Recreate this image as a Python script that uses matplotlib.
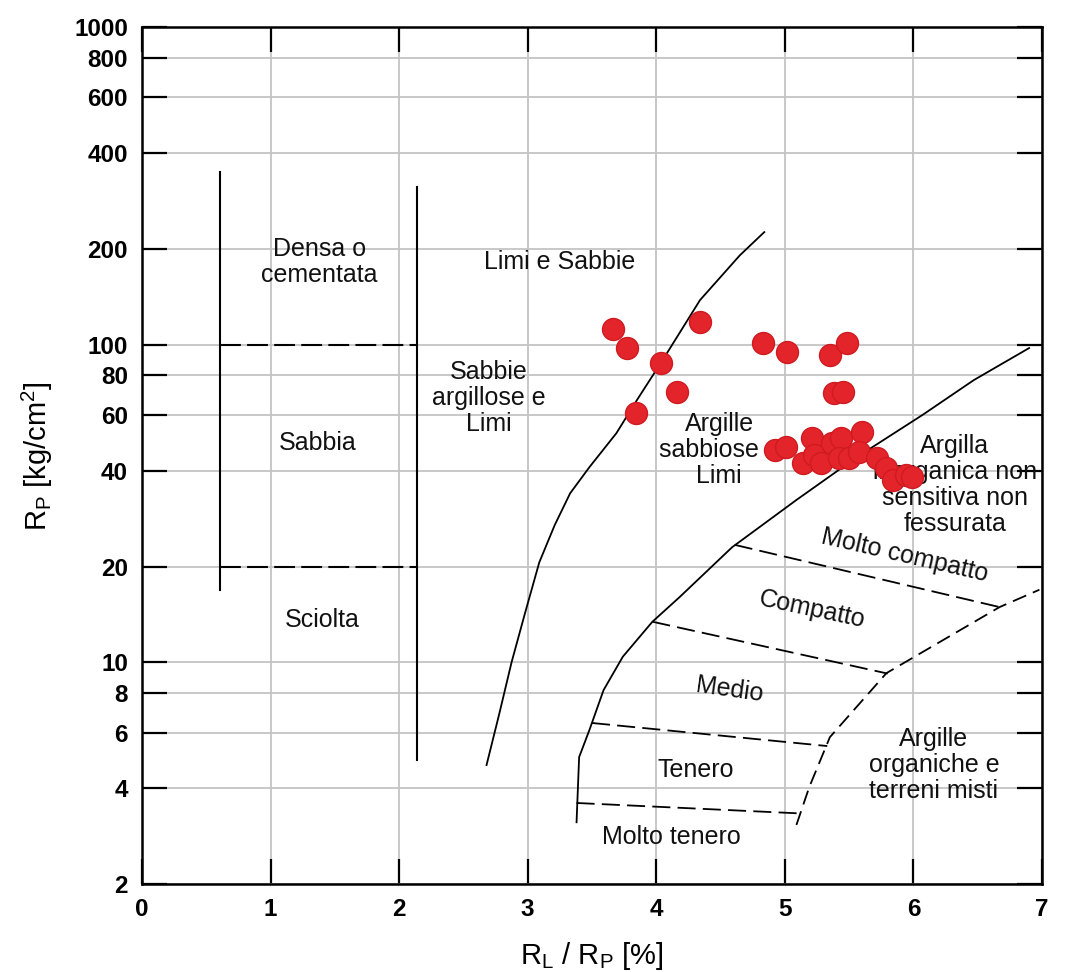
import matplotlib
matplotlib.use("Agg")
import matplotlib.pyplot as plt
from matplotlib.ticker import FixedLocator, NullLocator, FixedFormatter

plt.rcParams['font.family'] = ['Liberation Sans', 'DejaVu Sans']
plt.rcParams['mathtext.fontset'] = 'custom'
plt.rcParams['mathtext.rm'] = 'Liberation Sans'
plt.rcParams['mathtext.it'] = 'Liberation Sans'

# ---- data: measured points ----
pts_x = [3.66, 3.77, 4.04, 4.34, 4.16, 3.84, 4.83, 5.02, 5.35, 5.48, 5.38, 5.45,
         4.92, 5.01, 5.14, 5.21, 5.23, 5.28, 5.37, 5.44, 5.42, 5.50, 5.60, 5.58,
         5.72, 5.79, 5.84, 5.94, 5.99]
pts_y = [112, 97.5, 87.5, 118, 70.8, 60.9, 101, 94.7, 92.7, 101, 70.3, 70.8,
         46.5, 47.5, 42.4, 50.8, 44.9, 42.4, 49.0, 50.8, 43.9, 43.9, 53.0, 45.9,
         43.9, 40.8, 37.4, 38.8, 38.4]

# ---- boundary curves ----
c1_x = [2.68, 2.78, 2.875, 2.98, 3.09, 3.21, 3.33, 3.48, 3.69, 3.85, 4.05, 4.34, 4.65, 4.84]
c1_y = [4.74, 6.9, 10.0, 14.3, 20.6, 27.0, 34.0, 41.1, 52.6, 66.9, 89.4, 138, 191, 226]

c2_x = [3.38, 3.40, 3.48, 3.59, 3.74, 3.97, 4.18, 4.59, 5.09, 5.56, 6.07, 6.47, 6.90]
c2_y = [3.13, 5.02, 6.11, 8.16, 10.4, 13.4, 16.0, 23.0, 32.4, 44.2, 60.0, 77.3, 97.5]

c3_x = [5.09, 5.19, 5.35, 5.79, 6.67, 6.98]
c3_y = [3.07, 4.04, 5.80, 9.23, 14.9, 16.9]

# consistency class boundaries (dashed)
b_molto_compatto_x = [4.61, 6.67]
b_molto_compatto_y = [23.4, 14.9]
b_compatto_x = [3.97, 5.80]
b_compatto_y = [13.4, 9.2]
b_medio_x = [3.50, 5.33]
b_medio_y = [6.43, 5.44]
b_tenero_x = [3.38, 5.10]
b_tenero_y = [3.60, 3.34]

# vertical lines for sand density
v1_x = 0.606
v1_y = [16.9, 349]
v2_x = 2.14
v2_y = [4.9, 313]
h_levels = [100, 20]

yticks = [2, 4, 6, 8, 10, 20, 40, 60, 80, 100, 200, 400, 600, 800, 1000]
xticks = [0, 1, 2, 3, 4, 5, 6, 7]

labels = [
    ("Densa o\ncementata", 1.38, 182, 0),
    ("Limi e Sabbie", 3.25, 182, 0),
    ("Sabbie\nargillose e\nLimi", 2.70, 67.8, 0),
    ("Argille\nsabbiose e\nLimi", 4.49, 46.5, 0),
    ("Sabbia", 1.37, 49.0, 0),
    ("Sciolta", 1.40, 13.6, 0),
    ("Argilla\ninorganica non\nsensitiva non\nfessurata", 6.32, 36.1, 0),
    ("Molto compatto", 5.93, 21.7, -13),
    ("Compatto", 5.21, 14.6, -12),
    ("Medio", 4.57, 8.2, -8),
    ("Tenero", 4.31, 4.57, 0),
    ("Molto tenero", 4.12, 2.81, 0),
    ("Argille\norganiche e\nterreni misti", 6.16, 4.74, 0),
]

fig = plt.figure(figsize=(10.65, 9.72), dpi=100)
ax = fig.add_axes([0.1333, 0.0905, 0.8451, 0.8817])
ax.set_yscale('log')
ax.set_xlim(0, 7)
ax.set_ylim(2, 1000)

ax.yaxis.set_major_locator(FixedLocator(yticks))
ax.yaxis.set_major_formatter(FixedFormatter([str(t) for t in yticks]))
ax.yaxis.set_minor_locator(NullLocator())
ax.xaxis.set_major_locator(FixedLocator(xticks))

ax.grid(True, color='#c4c4c4', linewidth=1.3, zorder=0)
ax.tick_params(which='major', direction='in', length=18, width=1.6,
               top=True, right=True, labelsize=17.5, pad=10, colors='black')
for lab in ax.get_xticklabels() + ax.get_yticklabels():
    lab.set_fontweight('bold')
for s in ax.spines.values():
    s.set_linewidth(1.8)
    s.set_color('black')

lw = 1.3
ax.plot(c1_x, c1_y, color='black', lw=lw, zorder=2)
ax.plot(c2_x, c2_y, color='black', lw=lw, zorder=2)
ax.plot(c3_x, c3_y, color='black', lw=lw, ls=(0, (8, 4)), zorder=2)
for bx, by in [(b_molto_compatto_x, b_molto_compatto_y), (b_compatto_x, b_compatto_y),
               (b_medio_x, b_medio_y), (b_tenero_x, b_tenero_y)]:
    ax.plot(bx, by, color='black', lw=lw, ls=(0, (10, 4)), zorder=2)

ax.plot([v1_x, v1_x], v1_y, color='black', lw=1.5, zorder=2)
ax.plot([v2_x, v2_x], v2_y, color='black', lw=1.5, zorder=2)
for h in h_levels:
    ax.plot([v1_x, v2_x], [h, h], color='black', lw=1.5, ls=(0, (10, 3)), zorder=2)

for txt, x, y, rot in labels:
    ax.text(x, y, txt, ha='center', va='center', fontsize=18, rotation=rot,
            rotation_mode='anchor', linespacing=1.1, color='#111111', zorder=3)

ax.scatter(pts_x, pts_y, s=250, color='#e3242b', edgecolors='#d01a20',
           linewidths=1, zorder=4)

ax.set_xlabel(r"R$_\mathrm{L}$ / R$_\mathrm{P}$ [%]", fontsize=21, labelpad=14)
ax.set_ylabel(r"R$_\mathrm{P}$ [kg/cm$^2$]", fontsize=21, labelpad=14)

fig.savefig("out.png", dpi=100)
